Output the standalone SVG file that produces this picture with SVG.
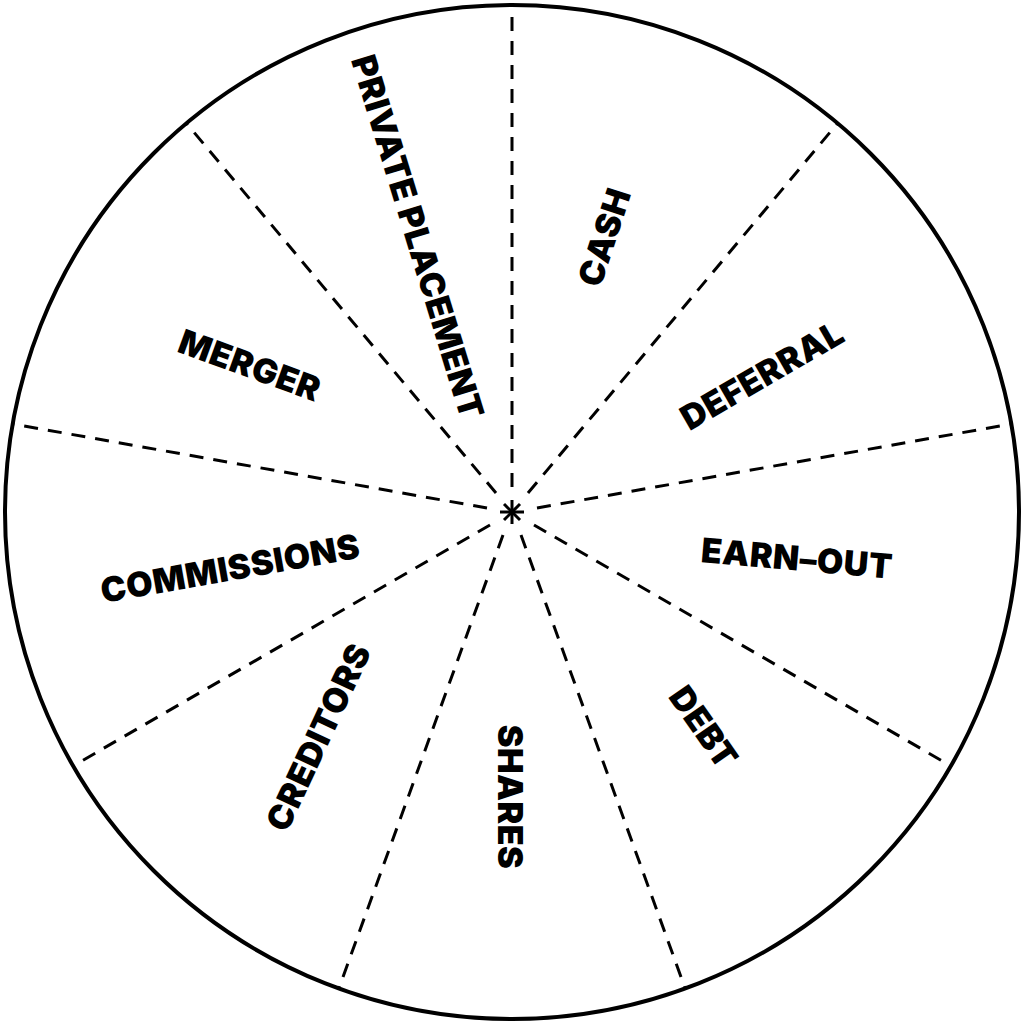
<svg xmlns="http://www.w3.org/2000/svg" width="1024" height="1024" viewBox="0 0 1024 1024">
<style>
.l{font-family:Inter,"Open Sans","Liberation Sans",sans-serif;font-weight:900;font-size:34px;fill:#000;text-anchor:middle;dominant-baseline:central;letter-spacing:0.5px}
.d{stroke:#000;stroke-width:3;stroke-dasharray:14 10;fill:none}
</style>
<rect width="1024" height="1024" fill="#fff"/>
<circle cx="512" cy="512" r="507" fill="none" stroke="#000" stroke-width="4"/>
<g id="connectors">
<line class="d" x1="512" y1="487" x2="512" y2="5"/>
<line class="d" x1="528" y1="493" x2="837" y2="124"/>
<line class="d" x1="537" y1="508" x2="1011" y2="424"/>
<line class="d" x1="534" y1="525" x2="951" y2="766"/>
<line class="d" x1="521" y1="535" x2="685" y2="988"/>
<line class="d" x1="503" y1="535" x2="339" y2="988"/>
<line class="d" x1="490" y1="525" x2="73" y2="766"/>
<line class="d" x1="487" y1="508" x2="13" y2="424"/>
<line class="d" x1="496" y1="493" x2="187" y2="124"/>
<g stroke="#000" stroke-width="3">
<line x1="512" y1="500" x2="512" y2="524"/><line x1="500" y1="512" x2="524" y2="512"/>
<line x1="504" y1="504" x2="520" y2="520"/><line x1="520" y1="504" x2="504" y2="520"/>
</g>
</g>
<g id="cash"><text class="l" transform="translate(604,237) rotate(-72)">CASH</text></g>
<g id="deferral"><text class="l" transform="translate(762,375) rotate(-30)">DEFERRAL</text></g>
<g id="earnout"><text class="l" transform="translate(797,558) rotate(5)">EARN–OUT</text></g>
<g id="debt"><text class="l" transform="translate(704,727) rotate(55)">DEBT</text></g>
<g id="shares"><text class="l" transform="translate(510,797) rotate(90)">SHARES</text></g>
<g id="creditors"><text class="l" transform="translate(318,737) rotate(-65)">CREDITORS</text></g>
<g id="commissions"><text class="l" transform="translate(230,568) rotate(-10)">COMMISSIONS</text></g>
<g id="merger"><text class="l" transform="translate(250,365) rotate(20)">MERGER</text></g>
<g id="private"><text class="l" transform="translate(418,237) rotate(73)">PRIVATE PLACEMENT</text></g>
</svg>
